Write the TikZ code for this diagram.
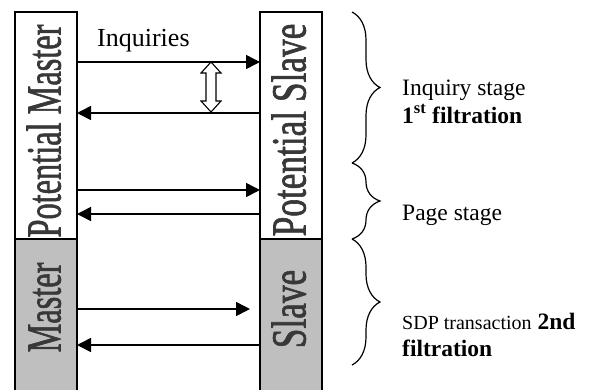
\documentclass[tikz,border=0pt]{standalone}
\usepackage{fontspec}
\setmainfont{Liberation Serif}
\newfontfamily\vlabfont[FakeBold=1.6]{Liberation Serif}
\usetikzlibrary{arrows.meta,decorations.pathreplacing}
\begin{document}
\begin{tikzpicture}[x=1pt,y=-1pt,
  col/.style={draw=black, line width=1.2pt, minimum width=62pt, inner sep=0pt, outer sep=0pt},
  vlab/.style={rotate=90, anchor=base, inner sep=0pt, text=black!78, font=\vlabfont\fontsize{49}{49}\selectfont},
  arr/.style={line width=1.5pt, -{Triangle[length=14pt,width=14pt]}},
  txt/.style={anchor=base west, inner sep=0pt, font=\fontsize{23.5}{28}\selectfont},
  brc/.style={decorate, decoration={brace, amplitude=28pt}, line width=1.2pt}
]
\useasboundingbox (0,0) rectangle (596,389);
% columns
\node[col, fill=white, minimum height=227pt] (pm) at (46,125.5) {};
\node[col, fill=black!25, minimum height=156pt] (m) at (46,317) {};
\node[col, fill=white, minimum height=227pt] (ps) at (291,125.5) {};
\node[col, fill=black!25, minimum height=156pt] (s) at (291,317) {};
% vertical labels
\node[vlab] (pml) at (60.5,131) {\scalebox{0.66}[1]{Potential Master}};
\node[vlab] (ml) at (60.5,307.5) {\scalebox{0.66}[1]{Master}};
\node[vlab] (psl) at (305.5,130) {\scalebox{0.72}[1]{Potential Slave}};
\node[vlab] (sl) at (305.5,309) {\scalebox{0.72}[1]{Slave}};
% arrow levels
\coordinate (y1) at (0,62);
\coordinate (y2) at (0,113);
\coordinate (y3) at (0,190);
\coordinate (y4) at (0,214);
\coordinate (y5) at (0,309);
\coordinate (y6) at (0,345);
\coordinate (a5e) at (250,309);
\draw[arr] (pm.east |- y1) -- (ps.west |- y1);
\draw[arr] (ps.west |- y2) -- (pm.east |- y2);
\draw[arr] (pm.east |- y3) -- (ps.west |- y3);
\draw[arr] (ps.west |- y4) -- (pm.east |- y4);
\draw[arr] (m.east |- y5) -- (a5e);
\draw[arr] (s.west |- y6) -- (m.east |- y6);
% hollow double arrow
\draw[line width=1.1pt, fill=white, line join=miter]
  (211,62) -- (221,73) -- (216,73) -- (216,101) -- (221,101) -- (211,112)
  -- (201,101) -- (206,101) -- (206,73) -- (201,73) -- cycle;
% braces
\coordinate (b0) at (352,12);
\coordinate (b1) at (352,163);
\coordinate (b2) at (352,239);
\coordinate (b3) at (352,365);
\draw[brc] (b0) -- (b1);
\draw[brc] (b1) -- (b2);
\draw[brc] (b2) -- (b3);
% texts
\node[anchor=base west, inner sep=0pt, font=\fontsize{26}{30}\selectfont] (inq) at (97,46) {Inquiries};
\node[txt] (t1) at (402,95) {Inquiry stage};
\node[txt] (t2) at (402,123) {\textbf{1\textsuperscript{st} filtration}};
\node[txt] (t3) at (402,220) {Page stage};
\node[txt] (t4) at (402,329) {{\fontsize{20}{24}\selectfont SDP transaction} \textbf{2nd}};
\node[txt] (t5) at (402,356) {\textbf{filtration}};
\end{tikzpicture}
\end{document}
